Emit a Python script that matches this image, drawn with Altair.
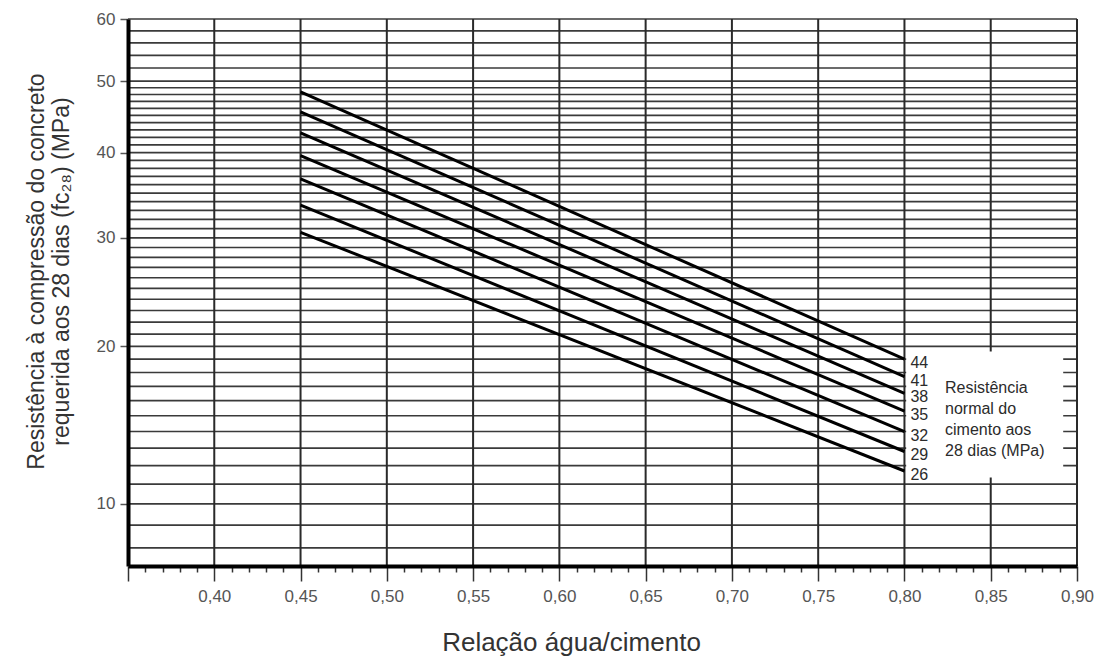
import altair as alt
import pandas as pd

# --- data ---
cement = [44, 41, 38, 35, 32, 29, 26]                 # cement normal strength (MPa)
fc_at_045 = [48.4, 45.5, 42.6, 39.6, 36.7, 33.6, 30.6]  # required fc28 at a/c = 0.45
fc_at_080 = [19.0, 17.7, 16.5, 15.3, 14.0, 12.8, 11.7]  # required fc28 at a/c = 0.80
wc_start = 0.45
wc_end = 0.80

y_grid = list(range(8, 51)) + [52, 54, 56, 58, 60]
x_grid = [0.40, 0.45, 0.50, 0.55, 0.60, 0.65, 0.70, 0.75, 0.80, 0.85, 0.90]
x_ticks = [round(0.35 + 0.01 * i, 2) for i in range(56)]
y_labels = [10, 20, 30, 40, 50, 60]

legend_text = "Resistência\nnormal do\ncimento aos\n28 dias (MPa)"

FONT = "Liberation Sans"

rows = []
for c, a, b in zip(cement, fc_at_045, fc_at_080):
    rows.append({"cement": c, "wc": wc_start, "fc": a})
    rows.append({"cement": c, "wc": wc_end, "fc": b})
lines_df = pd.DataFrame(rows)
ends_df = pd.DataFrame({"cement": cement, "wc": [wc_end] * len(cement), "fc": fc_at_080})

xscale = alt.Scale(domain=[0.35, 0.90], nice=False, zero=False)
yscale = alt.Scale(type="pow", exponent=0.3, domain=[7.27, 60], nice=False, zero=False)

major_test = "abs(datum.value*20 - round(datum.value*20)) < 0.001"

x_axis = alt.Axis(
    values=x_ticks,
    tickCount=200,
    grid=False,
    domainColor="black",
    domainWidth=4,
    tickColor="#333",
    tickWidth=1.5,
    tickSize={"condition": {"test": major_test, "value": 15}, "value": 6},
    labelExpr=f"({major_test}) && datum.value > 0.36 ? replace(format(datum.value, '.2f'), '.', ',') : ''",
    labelOverlap=False,
    labelFlush=False,
    labelFont=FONT,
    labelFontSize=17,
    labelColor="#555",
    labelPadding=7,
    title="Relação água/cimento",
    titleFont=FONT,
    titleFontSize=26,
    titleFontWeight="normal",
    titleColor="#333",
    titleX=443,
    titleY=76,
    titleBaseline="middle",
    titleAlign="center",
    zindex=2,
)

y_axis = alt.Axis(
    values=y_labels,
    grid=False,
    format="d",
    domainColor="black",
    domainWidth=4,
    tickColor="#555",
    tickWidth=1.5,
    tickSize=8,
    labelFont=FONT,
    labelFontSize=17,
    labelColor="#555",
    labelPadding=5,
    title=["Resistência à compressão do concreto", "requerida aos 28 dias (fc₂₈) (MPa)"],
    titleFont=FONT,
    titleFontSize=23,
    titleFontWeight="normal",
    titleColor="#333",
    titleLineHeight=25,
    titleX=-92,
    titleY=252,
    titleAngle=270,
    titleBaseline="middle",
    titleAlign="center",
    zindex=2,
)

hgrid = alt.Chart(pd.DataFrame({"y": y_grid})).mark_rule(
    color="#3a3a3a", strokeWidth=1.7
).encode(y=alt.Y("y:Q", scale=yscale, axis=y_axis))

vgrid = alt.Chart(pd.DataFrame({"x": x_grid})).mark_rule(
    color="#2a2a2a", strokeWidth=2
).encode(x=alt.X("x:Q", scale=xscale, axis=x_axis))

box = alt.Chart(pd.DataFrame({"x": [0.801], "x2": [0.892], "y": [19.6], "y2": [11.35]})).mark_rect(
    color="white"
).encode(
    x=alt.X("x:Q", scale=xscale), x2="x2:Q",
    y=alt.Y("y:Q", scale=yscale), y2="y2:Q",
)

lines = alt.Chart(lines_df).mark_line(color="black", strokeWidth=3).encode(
    x=alt.X("wc:Q", scale=xscale),
    y=alt.Y("fc:Q", scale=yscale),
    detail="cement:N",
)

labels = alt.Chart(ends_df).mark_text(
    align="left", baseline="middle", dx=6, dy=4, font=FONT, fontSize=16, color="#2b2b2b"
).encode(
    x=alt.X("wc:Q", scale=xscale),
    y=alt.Y("fc:Q", scale=yscale),
    text="cement:N",
)

legend = alt.Chart(pd.DataFrame({"x": [0.8235], "y": [16.9], "t": [legend_text]})).mark_text(
    align="left", baseline="middle", font=FONT, fontSize=16, color="#2b2b2b",
    lineBreak="\n", lineHeight=21
).encode(
    x=alt.X("x:Q", scale=xscale),
    y=alt.Y("y:Q", scale=yscale),
    text="t:N",
)

chart = alt.layer(hgrid, vgrid, box, lines, labels, legend).properties(
    width=949,
    height=547,
    autosize=alt.AutoSizeParams(type="none"),
    padding={"left": 120, "top": 11, "right": 17, "bottom": 94},
).configure_view(stroke=None)

chart.save("out.html", embed_options={"renderer": "svg", "actions": False})
